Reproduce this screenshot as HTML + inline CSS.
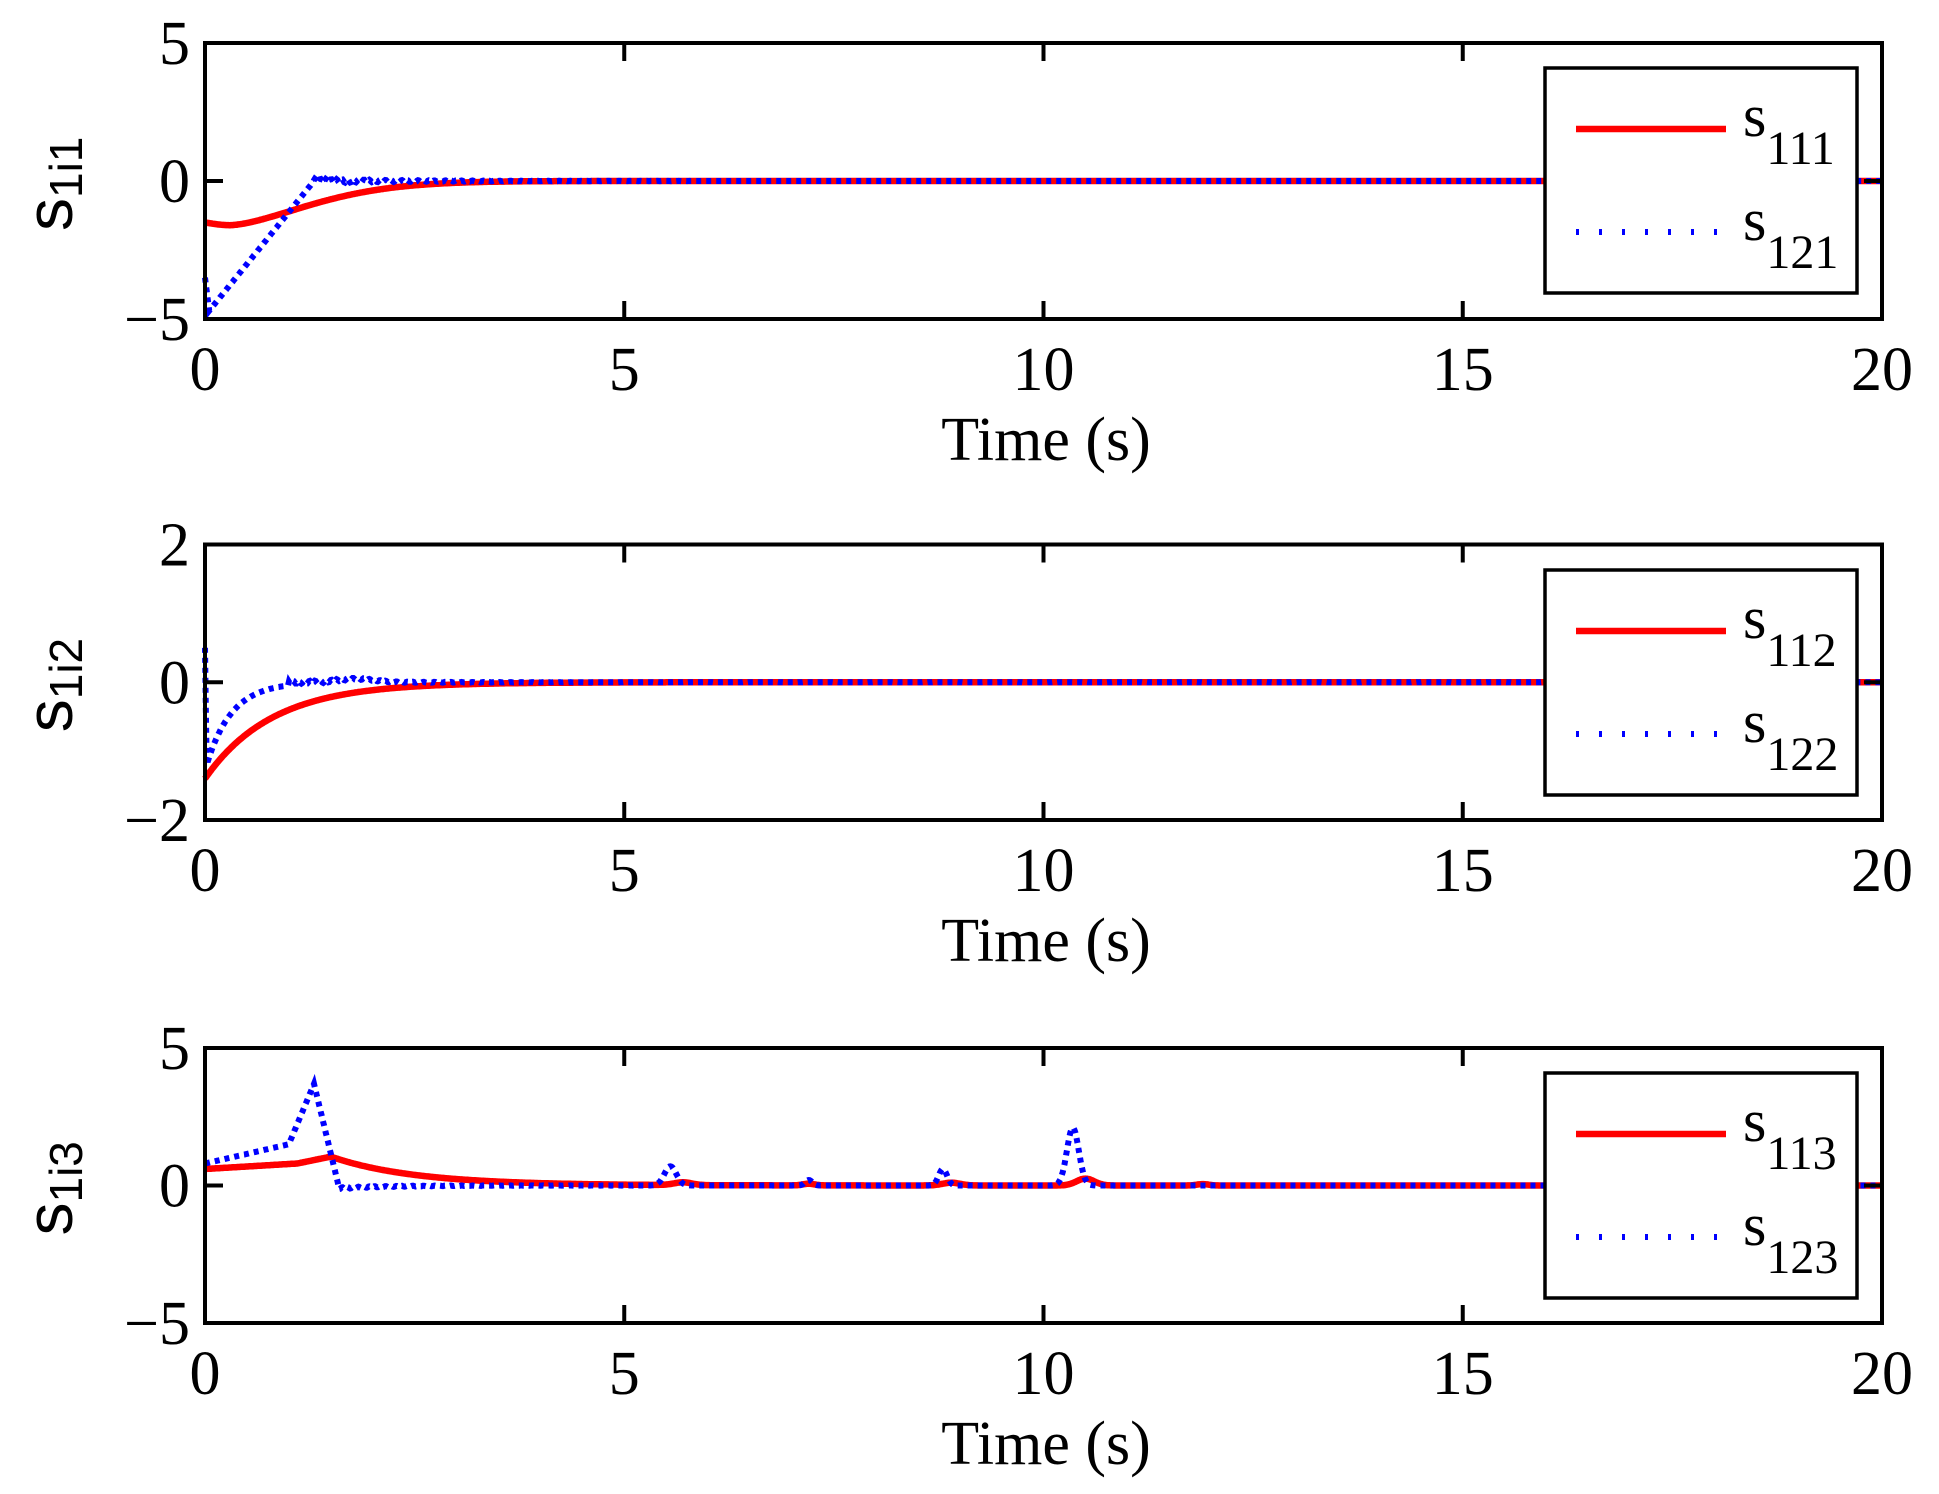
<!DOCTYPE html>
<html><head><meta charset="utf-8">
<style>
html,body{margin:0;padding:0;background:#fff;}
svg{display:block;}
text{font-family:"Liberation Serif",serif;fill:#000;}
.yl{font-family:"Liberation Sans",sans-serif;}
</style></head>
<body>
<svg id="s" width="1939" height="1494" viewBox="0 0 1939 1494" xmlns="http://www.w3.org/2000/svg"></svg>
<script>
const S=document.getElementById('s');
const X0=205,X1=1882;
const sx=t=>X0+(X1-X0)*t/20;
let out='';
function panel(top,bot,ymax,yt,lab,sub,red,blue,legTop){
  const zero=(top+bot)/2, sy=v=>zero-(v/ymax)*(bot-zero);
  let r='',b='';
  for(let i=0;i<=2000;i++){const t=i*0.01;r+=(i?'L':'M')+sx(t).toFixed(1)+' '+sy(red(t)).toFixed(1);}
  for(let i=0;i<=2000;i++){const t=i*0.01;b+=(i?'L':'M')+sx(t).toFixed(1)+' '+sy(blue(t)).toFixed(1);}
  out+=`<path d="${r}" fill="none" stroke="#f00" stroke-width="6.5"/>`;
  out+=`<path d="${b}" fill="none" stroke="#00f" stroke-width="6" stroke-dasharray="5 5"/>`;
  out+=`<rect x="${X0}" y="${top}" width="${X1-X0}" height="${bot-top}" fill="none" stroke="#000" stroke-width="4"/>`;
  for(const t of [5,10,15]){const x=sx(t);out+=`<line x1="${x}" y1="${top}" x2="${x}" y2="${top+18}" stroke="#000" stroke-width="4"/><line x1="${x}" y1="${bot}" x2="${x}" y2="${bot-18}" stroke="#000" stroke-width="4"/>`;}
  out+=`<line x1="${X0}" y1="${zero}" x2="${X0+18}" y2="${zero}" stroke="#000" stroke-width="4"/><line x1="${X1}" y1="${zero}" x2="${X1-18}" y2="${zero}" stroke="#000" stroke-width="4"/>`;
  const yl=[yt,0,-yt];const ys=[top,zero,bot];
  for(let k=0;k<3;k++){const v=yl[k];const s=v<0?'\u2212'+(-v):''+v;out+=`<text x="190" y="${ys[k]+21}" font-size="62" text-anchor="end">${s}</text>`;}
  for(let k=0;k<=4;k++){out+=`<text x="${sx(k*5)}" y="${bot+71}" font-size="62" text-anchor="middle">${k*5}</text>`;}
  out+=`<text x="1046" y="${bot+141}" font-size="62" text-anchor="middle">Time (s)</text>`;
  out+=`<g transform="translate(72 ${zero}) rotate(-90)"><text class="yl" x="-50" y="0" font-size="66">s<tspan font-size="46" dy="10">${lab}</tspan></text></g>`;
  out+=`<rect x="1545" y="${legTop}" width="312" height="225" fill="#fff" stroke="#000" stroke-width="3.5"/>`;
  out+=`<line x1="1576" y1="${legTop+61}" x2="1726" y2="${legTop+61}" stroke="#f00" stroke-width="6.5"/>`;
  out+=`<line x1="1576" y1="${legTop+164}" x2="1726" y2="${legTop+164}" stroke="#00f" stroke-width="6" stroke-dasharray="3 20"/>`;
  out+=`<text x="1743" y="${legTop+68}" font-size="60">s<tspan font-size="48" dy="28">${sub[0]}</tspan></text>`;
  out+=`<text x="1743" y="${legTop+172}" font-size="60">s<tspan font-size="48" dy="28">${sub[1]}</tspan></text>`;
}
const bump=(t,c,w,h)=>h*Math.exp(-Math.pow((t-c)/w,2));
const noise=t=>0.04*Math.sin(t*97)*Math.exp(-Math.max(0,t-1.3)/1.2);
panel(43,319,5,5,'1i1',['111','121'],
 t=>{if(t<0.3)return -1.5-0.1*Math.sin(t/0.3*Math.PI/2);return -1.6*Math.exp(-Math.pow((t-0.3)/1.3,1.6));},
 t=>{if(t<0.05)return -3.5-t*24;if(t<1.3)return -4.7+4.7*(t-0.05)/1.25;return noise(t)*2;},
 68);
panel(544.5,820,2,2,'1i2',['112','122'],
 t=>-1.4*Math.exp(-t/0.8),
 t=>{if(t<0.02)return 0.5-85*t;if(t<1.0)return -1.2*Math.exp(-(t-0.02)/0.3);return bump(t,1.8,0.3,0.05)+noise(t)*0.5;},
 570);
panel(1048,1323,5,5,'1i3',['113','123'],
 t=>{let v;if(t<1.1)v=0.6+0.2*t/1.1;else if(t<1.5)v=0.8+0.25*(t-1.1)/0.4;else v=1.05*Math.exp(-(t-1.5)/1.0);
   return v+bump(t,5.7,0.15,0.1)+bump(t,7.2,0.1,0.06)+bump(t,8.9,0.15,0.1)+bump(t,10.5,0.15,0.25)+bump(t,11.9,0.1,0.05);},
 t=>{let v;if(t<1.0)v=0.8+0.7*t;else if(t<1.3)v=1.5+2.2*(t-1.0)/0.3;else if(t<1.6)v=3.7-3.8*(t-1.3)/0.3;else v=-0.1*Math.exp(-(t-1.6)/0.6)+noise(t);
   return v+bump(t,5.55,0.1,0.7)+bump(t,7.2,0.06,0.2)+bump(t,8.8,0.07,0.6)+bump(t,10.35,0.1,2.1);},
 1073);
S.innerHTML=out;
</script>
</body></html>
